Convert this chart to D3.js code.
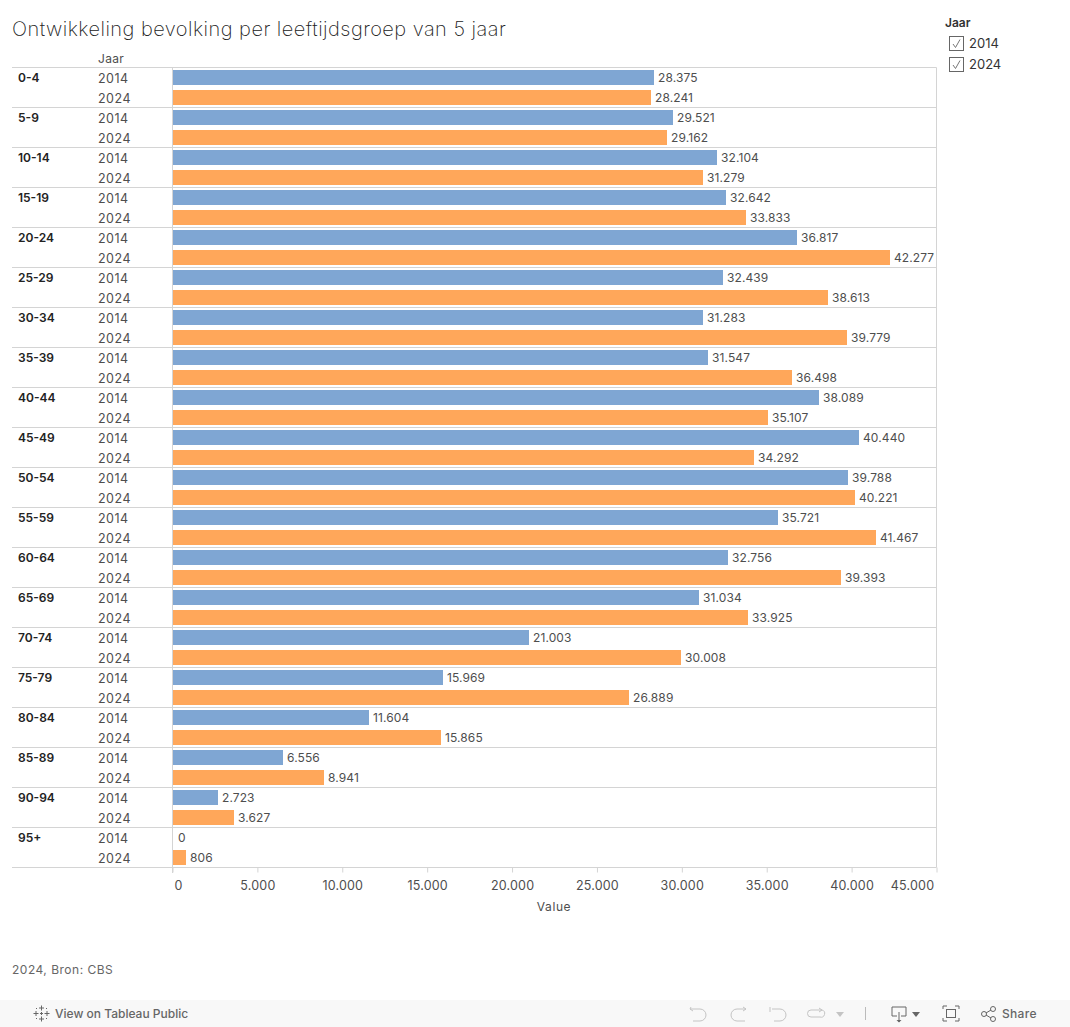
<!DOCTYPE html>
<html>
<head>
<meta charset="utf-8">
<script src="https://cdn.jsdelivr.net/npm/d3@7"></script>
<style>
  html, body { margin: 0; padding: 0; background: #fff; }
  svg { display: block; }
  text { font-family: Inter, sans-serif; }
</style>
</head>
<body>
<div id="chart"></div>
<script>
var svgWidth = 1070;
var svgHeight = 1027;

var ages = ["0-4", "5-9", "10-14", "15-19", "20-24", "25-29", "30-34", "35-39", "40-44", "45-49",
  "50-54", "55-59", "60-64", "65-69", "70-74", "75-79", "80-84", "85-89", "90-94", "95+"];
var years = ["2014", "2024"];
var values2014 = [28375, 29521, 32104, 32642, 36817, 32439, 31283, 31547, 38089, 40440,
  39788, 35721, 32756, 31034, 21003, 15969, 11604, 6556, 2723, 0];
var values2024 = [28241, 29162, 31279, 33833, 42277, 38613, 39779, 36498, 35107, 34292,
  40221, 41467, 39393, 33925, 30008, 26889, 15865, 8941, 3627, 806];
var xTicks = [0, 5000, 10000, 15000, 20000, 25000, 30000, 35000, 40000, 45000];

var colors = { "2014": "#7fa6d3", "2024": "#ffa75a" };
var lineColor = "#d4d4d4";
var textColor = "#4e4e4e";

// dutch number format, 28.375 instead of 28,375
var nl = d3.formatLocale({ decimal: ",", thousands: ".", grouping: [3], currency: ["€", ""] });
var fmt = nl.format(",d");

var svg = d3.select("#chart").append("svg")
  .attr("width", svgWidth)
  .attr("height", svgHeight);

var x = d3.scaleLinear().domain([0, 45000]).range([172.5, 936.5]);
var yAge = d3.scaleBand().domain(ages).range([67.5, 867.5]);
var yYear = d3.scaleBand().domain(years).range([0, yAge.bandwidth()]).paddingInner(0.25).paddingOuter(0.125);

svg.append("text")
  .attr("x", 12).attr("y", 36)
  .attr("font-size", 20).attr("fill", "#222").attr("font-weight", 200)
  .attr("letter-spacing", 0.46)
  .text("Ontwikkeling bevolking per leeftijdsgroep van 5 jaar");

svg.append("text")
  .attr("x", 98).attr("y", 63)
  .attr("font-size", 12).attr("fill", textColor)
  .attr("letter-spacing", 0.3)
  .text("Jaar");

// row lines
svg.append("g").selectAll("line")
  .data(ages.concat(["end"]))
  .enter().append("line")
  .attr("x1", 12).attr("x2", 936.5)
  .attr("y1", function(d) { return d === "end" ? 867.5 : yAge(d); })
  .attr("y2", function(d) { return d === "end" ? 867.5 : yAge(d); })
  .attr("stroke", lineColor);

// frame lines of the plot
svg.append("line").attr("x1", x(0)).attr("x2", x(0)).attr("y1", 67.5).attr("y2", 873).attr("stroke", lineColor);
svg.append("line").attr("x1", 936.5).attr("x2", 936.5).attr("y1", 67.5).attr("y2", 867.5).attr("stroke", lineColor);

var rows = svg.append("g").selectAll("g")
  .data(ages)
  .enter().append("g")
  .attr("transform", function(d) { return "translate(0," + yAge(d) + ")"; });

rows.append("text")
  .attr("x", 18).attr("y", 14)
  .attr("font-size", 12).attr("font-weight", 600).attr("fill", "#222")
  .text(function(d) { return d; });

var marks = rows.selectAll("g")
  .data(function(d, i) {
    return [
      { year: "2014", value: values2014[i] },
      { year: "2024", value: values2024[i] }
    ];
  })
  .enter().append("g")
  .attr("transform", function(d) { return "translate(0," + yYear(d.year) + ")"; });

// bars end on whole pixels, same as the tableau render
function barEnd(v) { return Math.floor(x(v)); }

marks.append("rect")
  .attr("x", x(0) + 0.5)
  .attr("y", 0)
  .attr("width", function(d) { return Math.max(0, barEnd(d.value) - x(0) - 0.5); })
  .attr("height", yYear.bandwidth())
  .attr("fill", function(d) { return colors[d.year]; });

marks.append("text")
  .attr("x", 98).attr("y", 13)
  .attr("font-size", 12.5).attr("fill", textColor)
  .attr("letter-spacing", 0.5)
  .text(function(d) { return d.year; });

marks.append("text")
  .attr("x", function(d) { return d.value === 0 ? barEnd(d.value) + 6 : barEnd(d.value) + 4; })
  .attr("y", 12)
  .attr("font-size", 12).attr("fill", textColor)
  .attr("letter-spacing", 0.1)
  .text(function(d) { return fmt(d.value); });

// bottom axis
var bottomAxis = d3.axisBottom(x).tickValues(xTicks).tickFormat(fmt).tickSize(5).tickPadding(9);
var axisGroup = svg.append("g")
  .attr("transform", "translate(0,867.5)")
  .call(bottomAxis);
axisGroup.select(".domain").remove();
axisGroup.selectAll("line").attr("stroke", lineColor);
axisGroup.selectAll("text")
  .attr("font-size", 12.5).attr("fill", textColor)
  .attr("font-family", "Inter, sans-serif")
  .attr("letter-spacing", 0.2)
  .attr("dx", function(d) { return d === 0 ? 5.5 : d === 45000 ? -24.5 : 0; });

svg.append("text")
  .attr("x", 554).attr("y", 911)
  .attr("text-anchor", "middle")
  .attr("font-size", 12).attr("fill", textColor)
  .attr("letter-spacing", 0.6)
  .text("Value");

svg.append("text")
  .attr("x", 12).attr("y", 974)
  .attr("font-size", 12).attr("fill", "#666")
  .attr("letter-spacing", 0.5)
  .text("2024, Bron: CBS");

// legend
svg.append("text")
  .attr("x", 945).attr("y", 27)
  .attr("font-size", 12).attr("font-weight", 600).attr("fill", "#333")
  .text("Jaar");

var legend = svg.append("g").selectAll("g")
  .data(years)
  .enter().append("g")
  .attr("transform", function(d, i) { return "translate(949.5," + (36.5 + i * 21) + ")"; });

legend.append("rect")
  .attr("width", 14).attr("height", 14)
  .attr("fill", "#fff").attr("stroke", "#666");
legend.append("path")
  .attr("d", "M3.5 7.5 L6 11 L10.5 3")
  .attr("fill", "none").attr("stroke", "#777").attr("stroke-width", 1);
legend.append("text")
  .attr("x", 19.5).attr("y", 11.5)
  .attr("font-size", 13).attr("fill", "#333")
  .text(function(d) { return d; });

// tableau toolbar
var bar = svg.append("g");
bar.append("rect")
  .attr("x", 0).attr("y", 1000).attr("width", svgWidth).attr("height", 27)
  .attr("fill", "#f8f8f8");

var logo = bar.append("g").attr("stroke", "#666").attr("stroke-width", 1).attr("fill", "none");
logo.append("path").attr("d", "M41.500 1005.500v5M39 1008h5M41.500 1016.500v5M39 1019h5M33.500 1013.500h5M36 1011v5M44.500 1013.500h5M47 1011v5");
logo.append("path").attr("d", "M40 1013.500h3M41.500 1012v3M36 1008.500h1M46 1008.500h1M36 1018.500h1M46 1018.500h1");

bar.append("text")
  .attr("x", 55).attr("y", 1018)
  .attr("font-size", 12).attr("font-weight", 500).attr("fill", "#666")
  .text("View on Tableau Public");

var icons = bar.append("g").attr("fill", "none").attr("stroke", "#c4c4c4").attr("stroke-width", 1);
icons.append("path").attr("d", "M691 1007l-1 2 3 2M690 1009h10a6 6 0 0 1 0 12h-7");
icons.append("path").attr("d", "M746 1009h-9a6 6 0 0 0 0 12h8M743 1007l3 2-3 2");
icons.append("path").attr("d", "M770 1007v5M772 1009h8a6 6 0 0 1 0 12h-6");
icons.append("path").attr("d", "M822 1010h-11a3.500 3.500 0 0 0 0 7h9a3.500 3.500 0 0 0 2-7M819 1008l3 2-3 2");
bar.append("path").attr("d", "M836 1012h8l-4 5z").attr("fill", "#c4c4c4");
bar.append("line").attr("x1", 865.5).attr("x2", 865.5).attr("y1", 1007).attr("y2", 1020).attr("stroke", "#bbb");

var dark = bar.append("g").attr("fill", "none").attr("stroke", "#666").attr("stroke-width", 1);
dark.append("path").attr("d", "M897 1016h-5v-9h14v9h-5M899 1012v10");
bar.append("path").attr("d", "M896.500 1020h5l-2.500 2.500z").attr("fill", "#666");
bar.append("path").attr("d", "M912 1012h8l-4 5z").attr("fill", "#666");
dark.append("path").attr("d", "M947 1006h-4v3M955 1006h4v3M947 1021h-4v-3M955 1021h4v-3");
dark.append("rect").attr("x", 946.5).attr("y", 1009.5).attr("width", 9).attr("height", 8);
dark.append("circle").attr("cx", 984).attr("cy", 1014).attr("r", 2.5);
dark.append("circle").attr("cx", 993).attr("cy", 1009).attr("r", 2.5);
dark.append("circle").attr("cx", 993).attr("cy", 1019).attr("r", 2.5);
dark.append("path").attr("d", "M986 1013l5-3M986 1015l5 3");
bar.append("text")
  .attr("x", 1002).attr("y", 1018)
  .attr("font-size", 12).attr("font-weight", 500).attr("fill", "#666")
  .attr("letter-spacing", 0.3)
  .text("Share");
</script>
</body>
</html>
